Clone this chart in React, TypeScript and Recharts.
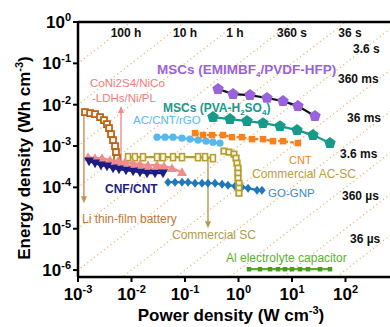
import React from "react";
import { ScatterChart, Scatter, XAxis, YAxis, ReferenceLine } from "recharts";

// power density (W cm-3) / energy density (Wh cm-3)
const emimP = [0.414, 0.79, 1.64, 3.41, 6.79, 12.9, 26.9];
const emimE = [0.0239, 0.0181, 0.0171, 0.0145, 0.0122, 0.00925, 0.0053];

const pvaP = [0.333, 0.693, 1.44, 2.87, 5.97, 12.4, 24.7, 51.3];
const pvaE = [0.00501, 0.00448, 0.00401, 0.00358, 0.00303, 0.00243, 0.00184, 0.00118];

const cntP = [0.154, 0.217, 0.32, 0.513, 0.756, 1.16, 1.79, 2.87, 4.41, 6.79, 12.9];
const cntE = [0.00205, 0.00184, 0.00184, 0.00184, 0.00164, 0.00164, 0.00147, 0.00147, 0.00131, 0.00131, 0.00118];

const acP = [0.03, 0.0423, 0.0597, 0.0879, 0.124, 0.175, 0.247, 0.333, 0.451];
const acE = [0.00164, 0.00164, 0.00164, 0.00155, 0.00147, 0.00139, 0.00131, 0.00124, 0.00118];

const liP = [0.00135, 0.00168, 0.00208, 0.00258, 0.00306, 0.00348, 0.0038, 0.00414, 0.00451, 0.00492, 0.00513, 0.00536, 0.0056];
const liE = [0.00662, 0.00626, 0.00592, 0.00501, 0.00424, 0.00339, 0.00271, 0.00194, 0.00139, 0.000995, 0.000712, 0.000509, 0.000365];

const coniP = [0.00154, 0.00208, 0.00281, 0.00396, 0.0056, 0.00756, 0.0107, 0.0144, 0.0203, 0.03, 0.0405, 0.0571, 0.0879];
const coniE = [0.000538, 0.000509, 0.000509, 0.000456, 0.000431, 0.000407, 0.000385, 0.000365, 0.000345, 0.000345, 0.000326, 0.000292, 0.000233];

const cnfP = [0.00161, 0.00208, 0.00269, 0.00348, 0.00451, 0.00584, 0.00789, 0.0107, 0.0144, 0.0195, 0.0275, 0.0388];
const cnfE = [0.000431, 0.000385, 0.000345, 0.000326, 0.000292, 0.000276, 0.000261, 0.000247, 0.000233, 0.000221, 0.000221, 0.000221];

const gognpP = [0.0481, 0.065, 0.0879, 0.114, 0.154, 0.208, 0.269, 0.364, 0.492, 0.637, 0.861, 1.16, 1.51, 2.22, 2.75];
const gognpE = [0.000134, 0.000134, 0.000134, 0.000134, 0.000126, 0.000126, 0.000126, 0.000126, 0.000119, 0.000113, 0.000107, 0.000101, 0.0000957, 0.0000855, 0.0000855];

const comSCP = [0.00861, 0.0116, 0.0164, 0.03, 0.0388, 0.0597, 0.0879, 0.175, 0.237, 0.333];
const comSCE = [0.000538, 0.000538, 0.000538, 0.000538, 0.000538, 0.000538, 0.000538, 0.000538, 0.000538, 0.000509];

const comACP = [0.536, 0.664, 0.824, 0.898, 0.937, 0.979, 0.979, 0.979, 1.02, 1.02, 1.02];
const comACE = [0.000753, 0.000712, 0.000637, 0.000509, 0.000385, 0.000292, 0.000221, 0.000167, 0.000126, 0.0000957, 0.0000724];

const alP = [1.57, 2.52, 3.88, 5.47, 7.4, 10, 14.1, 19.9, 33.4, 51.3];
const alE = [1.05e-6, 1.05e-6, 1.05e-6, 1.05e-6, 1.05e-6, 1.05e-6, 1.05e-6, 1.05e-6, 1.05e-6, 1.05e-6];

// constant discharge-time guide lines, hours
const dischargeHours = [100, 10, 1, 0.1, 0.01, 1e-3, 1e-4, 1e-5, 1e-6, 1e-7, 1e-8];
const topTimeLabels = ["100 h", "10 h", "1 h", "360 s", "36 s"];
const sideTimeLabels = ["3.6 s", "360 ms", "36 ms", "3.6 ms", "360 \u00b5s", "36 \u00b5s"];

const xTicks = [1e-3, 1e-2, 1e-1, 1, 10, 100];
const yTicks = [1e-6, 1e-5, 1e-4, 1e-3, 1e-2, 1e-1, 1];

// arrows: [power, energy from, energy to]
const liArrow = [0.00129, 0.00828, 4.14e-5];
const coniArrow = [0.00637, 0.000456, 0.00925];
const comSCArrow = [0.269, 0.000538, 1.03e-5];

const zip = (p: number[], e: number[]) => p.map((v, i) => ({ p: v, e: e[i] }));

const FONT = "Liberation Sans, Arial, sans-serif";

const makeShape = (kind: string, fill: string, size: number, stroke?: string) => (props: any) => {
  const { cx, cy } = props;
  if (cx == null || cy == null) return <g />;
  const s = size;
  if (kind === "pentagon") {
    const pts = [0, 1, 2, 3, 4]
      .map((k) => {
        const a = -Math.PI / 2 + (k * 2 * Math.PI) / 5;
        return `${cx + s * Math.cos(a)},${cy + s * Math.sin(a)}`;
      })
      .join(" ");
    return <polygon points={pts} fill={fill} />;
  }
  if (kind === "square") return <rect x={cx - s / 2} y={cy - s / 2} width={s} height={s} fill={fill} />;
  if (kind === "circle") return <circle cx={cx} cy={cy} r={s} fill={fill} />;
  if (kind === "triUp")
    return <polygon points={`${cx},${cy - s} ${cx + s},${cy + s * 0.75} ${cx - s},${cy + s * 0.75}`} fill={fill} />;
  if (kind === "triDown")
    return <polygon points={`${cx},${cy + s} ${cx + s},${cy - s * 0.75} ${cx - s},${cy - s * 0.75}`} fill={fill} />;
  if (kind === "diamond")
    return <polygon points={`${cx},${cy - s} ${cx + s * 0.8},${cy} ${cx},${cy + s} ${cx - s * 0.8},${cy}`} fill={fill} />;
  if (kind === "openSquare")
    return (
      <rect x={cx - s / 2} y={cy - s / 2} width={s} height={s} fill="#fff8e8" stroke={stroke} strokeWidth={1.8} />
    );
  if (kind === "openRect")
    return (
      <rect x={cx - s * 0.35} y={cy - s / 2} width={s * 0.7} height={s} fill="#fffbe8" stroke={stroke} strokeWidth={1.6} />
    );
  return <circle cx={cx} cy={cy} r={s} fill={fill} />;
};

const arrowShape = (color: string) => (props: any) => {
  const { x1, y1, x2, y2 } = props;
  if ([x1, y1, x2, y2].some((v) => v == null || isNaN(v))) return <g />;
  const dir = y2 > y1 ? 1 : -1;
  return (
    <g>
      <line x1={x1} y1={y1} x2={x2} y2={y2 - dir * 4} stroke={color} strokeWidth={1.4} />
      <polygon points={`${x2},${y2} ${x2 - 3},${y2 - dir * 7} ${x2 + 3},${y2 - dir * 7}`} fill={color} />
    </g>
  );
};

const powTen = (v: number) => Math.round(Math.log10(v));

const XTick = (props: any) => {
  const { x, y, payload } = props;
  return (
    <text x={x} y={y + 16} textAnchor="middle" fontFamily={FONT} fontWeight="bold" fontSize={17} fill="#000">
      10<tspan dy={-7} fontSize={11}>{powTen(payload.value)}</tspan>
    </text>
  );
};

const YTick = (props: any) => {
  const { x, y, payload } = props;
  const exp = powTen(payload.value);
  return (
    <text x={x} y={y + 6} textAnchor="end" fontFamily={FONT} fontWeight="bold" fontSize={17} fill="#000">
      10<tspan dy={-7} fontSize={11}>{exp}</tspan>
    </text>
  );
};

const series = [
  { data: zip(liP, liE), kind: "openSquare", color: "#b8651b", line: "#b8651b", size: 6 },
  { data: zip(comSCP, comSCE), kind: "openRect", color: "#b3a031", line: "#b3a031", size: 7 },
  { data: zip(coniP, coniE), kind: "triUp", color: "#f28c8c", line: "#f28c8c", size: 5 },
  { data: zip(cnfP, cnfE), kind: "triDown", color: "#1c1c84", line: "#1c1c84", size: 5 },
  { data: zip(gognpP, gognpE), kind: "diamond", color: "#1f78b8", line: "#1f78b8", size: 4.5 },
  { data: zip(comACP, comACE), kind: "openSquare", color: "#b3a031", line: "#b3a031", size: 5.5 },
  { data: zip(acP, acE), kind: "circle", color: "#55b8ee", line: "#55b8ee", size: 3.6 },
  { data: zip(cntP, cntE), kind: "square", color: "#f5821f", line: "#f5821f", size: 6.5, dash: "4 2" },
  { data: zip(pvaP, pvaE), kind: "pentagon", color: "#179a8a", line: "#179a8a", size: 6 },
  { data: zip(emimP, emimE), kind: "pentagon", color: "#9a62dc", line: "#111", size: 6 },
  { data: zip(alP, alE), kind: "square", color: "#4c9a22", line: "#5cb030", size: 4.5 },
];

const sub = (t: string) => (
  <tspan dy={3} fontSize={8}>
    {t}
  </tspan>
);

export default function App() {
  return (
    <div style={{ position: "fixed", left: 0, top: 0, width: 390, height: 327, overflow: "hidden", background: "#fff" }}>
      <ScatterChart width={420} height={327} margin={{ top: 22, right: 21, bottom: 20, left: 18 }}>
        <XAxis
          type="number"
          dataKey="p"
          scale="log"
          domain={[1e-3, 1e3]}
          allowDataOverflow
          ticks={xTicks}
          interval={0}
          tick={<XTick />}
          height={30}
          tickSize={5}
          axisLine={{ stroke: "#000", strokeWidth: 2.5 }}
          tickLine={{ stroke: "#000", strokeWidth: 2 }}
        />
        <YAxis
          type="number"
          dataKey="e"
          scale="log"
          domain={[6.8e-7, 1]}
          allowDataOverflow
          ticks={yTicks}
          interval={0}
          tick={<YTick />}
          width={60}
          tickSize={5}
          tickMargin={2}
          axisLine={{ stroke: "#000", strokeWidth: 2.5 }}
          tickLine={{ stroke: "#000", strokeWidth: 2 }}
        />
        {dischargeHours.map((t) => (
          <ReferenceLine
            key={t}
            segment={[
              { x: 1e-5, y: t * 1e-5 },
              { x: 1e5, y: t * 1e5 },
            ]}
            ifOverflow="hidden"
            stroke="#e9b574"
            strokeWidth={1.3}
            strokeDasharray="1.2 3"
          />
        ))}
        <ReferenceLine y={1} stroke="#000" strokeWidth={2.5} />
        <ReferenceLine
          segment={[
            { x: liArrow[0], y: liArrow[1] },
            { x: liArrow[0], y: liArrow[2] },
          ]}
          shape={arrowShape("#c98e55")}
        />
        <ReferenceLine
          segment={[
            { x: coniArrow[0], y: coniArrow[1] },
            { x: coniArrow[0], y: coniArrow[2] },
          ]}
          shape={arrowShape("#f08a8a")}
        />
        <ReferenceLine
          segment={[
            { x: comSCArrow[0], y: comSCArrow[1] },
            { x: comSCArrow[0], y: comSCArrow[2] },
          ]}
          shape={arrowShape("#b39a4a")}
        />
        {series.map((s, i) => (
          <Scatter
            key={i}
            data={s.data}
            line={{ stroke: s.line, strokeWidth: 2.2, strokeDasharray: (s as any).dash }}
            lineType="joint"
            shape={makeShape(s.kind, s.color, s.size, s.color)}
            isAnimationActive={false}
          />
        ))}
      </ScatterChart>
      <svg
        width={390}
        height={327}
        style={{ position: "absolute", left: 0, top: 0, pointerEvents: "none" }}
        fontFamily={FONT}
      >
        {topTimeLabels.map((t, i) => (
          <text key={t} x={[126, 185, 235, 292, 350][i]} y={37} textAnchor="middle" fontSize={12} fontWeight="bold" fill="#111">
            {t}
          </text>
        ))}
        {sideTimeLabels.map((t, i) => (
          <text key={t} x={[353, 338, 347, 340, 342, 350][i]} y={[53, 83, 122, 158, 200, 243][i]} fontSize={12} fontWeight="bold" fill="#111">
            {t}
          </text>
        ))}
        <text x={157} y={74} fontSize={13.5} fontWeight="bold" fill="#9a62dc">
          MSCs (EMIMBF{sub("4")}
          <tspan dy={-3} fontSize={13.5}>/PVDF-HFP)</tspan>
        </text>
        <text x={163} y={112} fontSize={12} fontWeight="bold" fill="#179a8a">
          MSCs (PVA-H{sub("2")}
          <tspan dy={-3} fontSize={12}>SO</tspan>
          {sub("4")}
          <tspan dy={-3} fontSize={12}>)</tspan>
        </text>
        <text x={133} y={124} fontSize={11.5} fill="#55b8ee">AC/CNT/rGO</text>
        <text x={90} y={87} fontSize={11.5} fill="#f07c7c">CoNi2S4/NiCo</text>
        <text x={92} y={102} fontSize={11.5} fill="#f07c7c">-LDHs/Ni/PL</text>
        <text x={289} y={164} fontSize={11} fill="#f5821f">CNT</text>
        <text x={252} y={178} fontSize={12} fill="#b8a040">Commercial AC-SC</text>
        <text x={268} y={197} fontSize={11.5} fill="#3a8ac8">GO-GNP</text>
        <text x={105} y={193} fontSize={12} fontWeight="bold" fill="#1c1c84">CNF/CNT</text>
        <text x={82} y={223} fontSize={12} fill="#c07838">Li thin-film battery</text>
        <text x={172} y={239} fontSize={12} fill="#b39a4a">Commercial SC</text>
        <text x={226} y={262} fontSize={12} fill="#5cb030">Al electrolyte capacitor</text>
        <text x={231} y={321} textAnchor="middle" fontSize={17} fontWeight="bold" fill="#000">
          Power density (W cm<tspan dy={-7} fontSize={11}>-3</tspan>
          <tspan dy={7}>)</tspan>
        </text>
        <text
          transform="translate(30,158) rotate(-90)"
          textAnchor="middle"
          fontSize={17}
          fontWeight="bold"
          fill="#000"
        >
          Energy density (Wh cm<tspan dy={-7} fontSize={11}>-3</tspan>
          <tspan dy={7}>)</tspan>
        </text>
      </svg>
    </div>
  );
}
